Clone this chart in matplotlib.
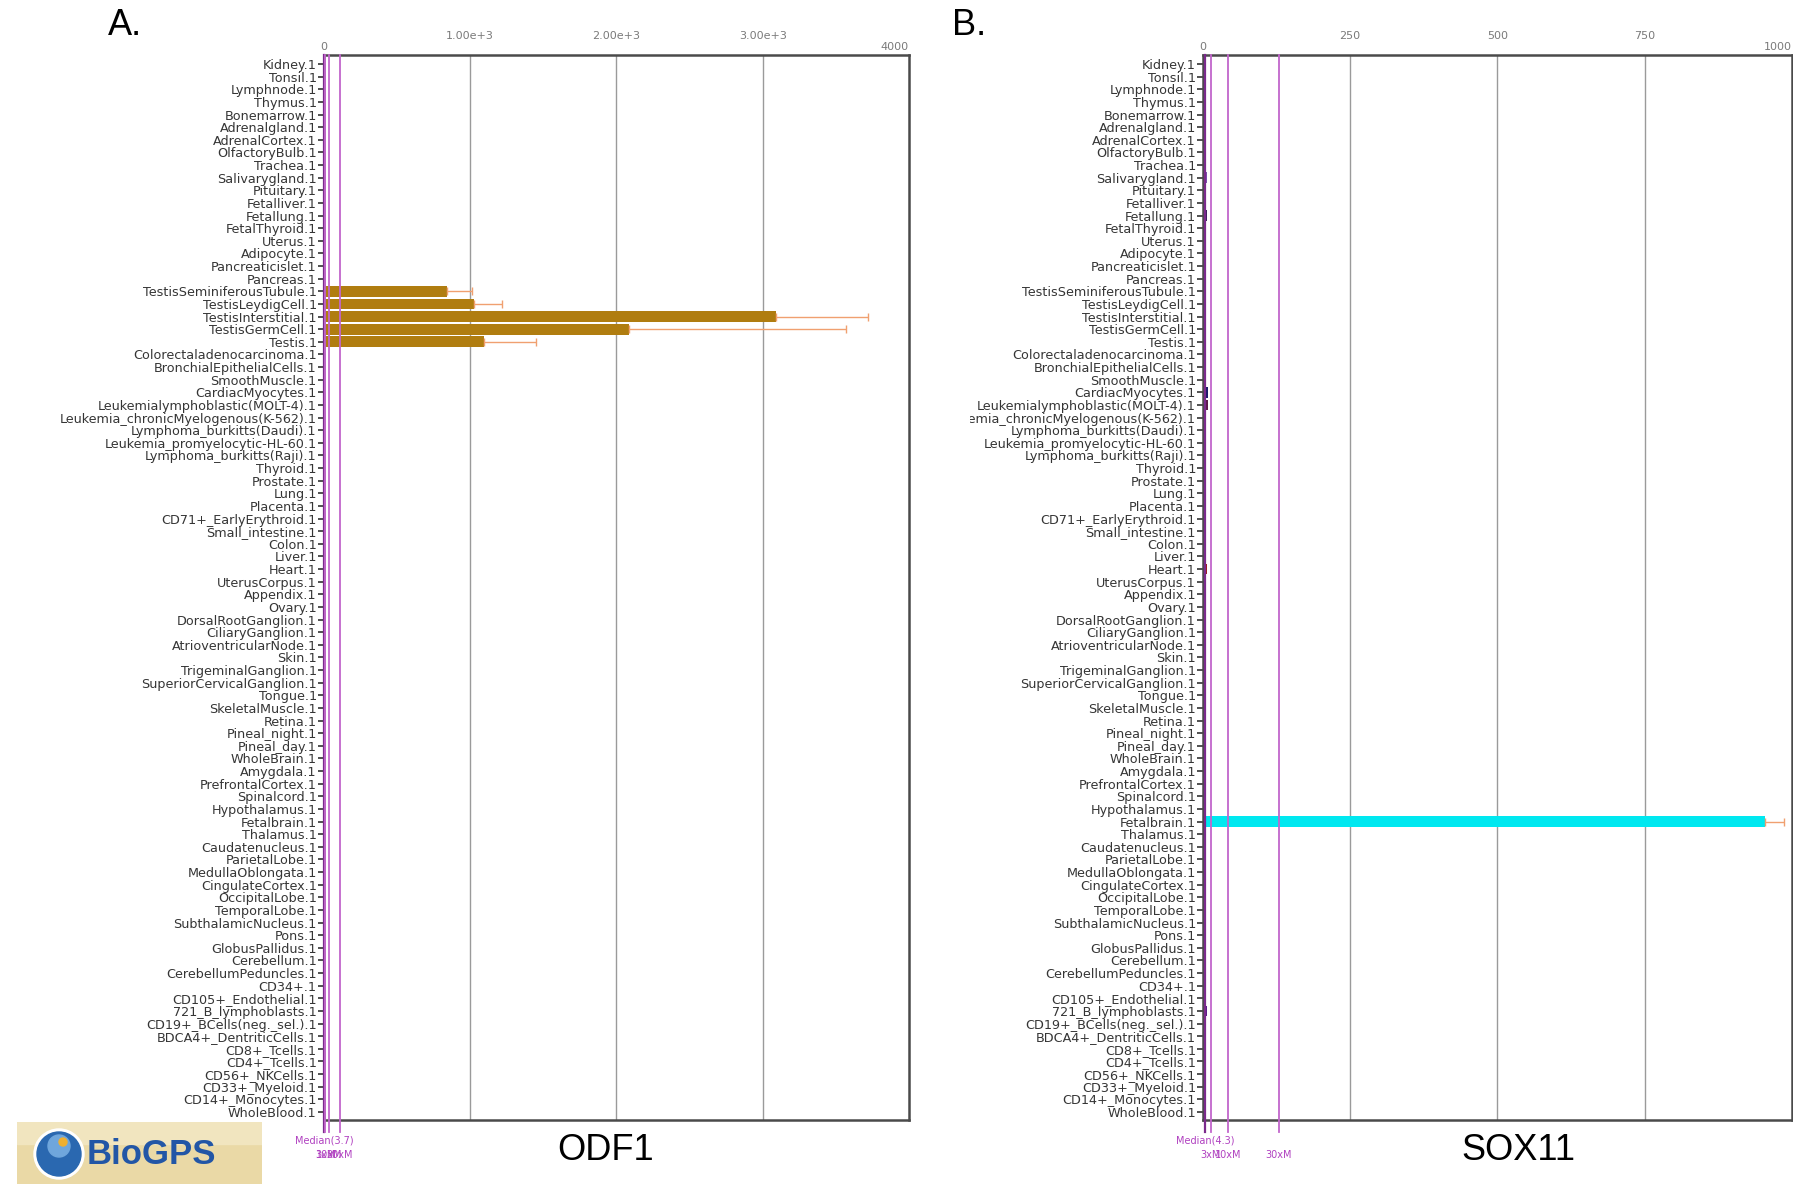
import numpy as np
import matplotlib.pyplot as plt
from matplotlib.patches import Rectangle, Circle
from matplotlib.transforms import Bbox, TransformedBbox


tissues = ['Kidney', 'Tonsil', 'Lymphnode', 'Thymus', 'Bonemarrow', 'Adrenalgland',
           'AdrenalCortex', 'OlfactoryBulb', 'Trachea', 'Salivarygland', 'Pituitary',
           'Fetalliver', 'Fetallung', 'FetalThyroid', 'Uterus', 'Adipocyte',
           'Pancreaticislet', 'Pancreas', 'TestisSeminiferousTubule', 'TestisLeydigCell',
           'TestisInterstitial', 'TestisGermCell', 'Testis', 'Colorectaladenocarcinoma',
           'BronchialEpithelialCells', 'SmoothMuscle', 'CardiacMyocytes',
           'Leukemialymphoblastic(MOLT-4)', 'Leukemia_chronicMyelogenous(K-562)',
           'Lymphoma_burkitts(Daudi)', 'Leukemia_promyelocytic-HL-60',
           'Lymphoma_burkitts(Raji)', 'Thyroid', 'Prostate', 'Lung', 'Placenta',
           'CD71+_EarlyErythroid', 'Small_intestine', 'Colon', 'Liver', 'Heart',
           'UterusCorpus', 'Appendix', 'Ovary', 'DorsalRootGanglion', 'CiliaryGanglion',
           'AtrioventricularNode', 'Skin', 'TrigeminalGanglion', 'SuperiorCervicalGanglion',
           'Tongue', 'SkeletalMuscle', 'Retina', 'Pineal_night', 'Pineal_day', 'WholeBrain',
           'Amygdala', 'PrefrontalCortex', 'Spinalcord', 'Hypothalamus', 'Fetalbrain',
           'Thalamus', 'Caudatenucleus', 'ParietalLobe', 'MedullaOblongata',
           'CingulateCortex', 'OccipitalLobe', 'TemporalLobe', 'SubthalamicNucleus', 'Pons',
           'GlobusPallidus', 'Cerebellum', 'CerebellumPeduncles', 'CD34+',
           'CD105+_Endothelial', '721_B_lymphoblasts', 'CD19+_BCells(neg._sel.)',
           'BDCA4+_DentriticCells', 'CD8+_Tcells', 'CD4+_Tcells', 'CD56+_NKCells',
           'CD33+_Myeloid', 'CD14+_Monocytes', 'WholeBlood']

tissue_colors = ['#2b1d4f', '#3a1f5c', '#2b1d4f', '#3a1f5c', '#552a6e', '#1e1e1e',
                 '#1e1e1e', '#4a2a6a', '#7a4fb0', '#7a4fb0', '#8b5a2b', '#6b2a5a',
                 '#3a1f5c', '#3a1f5c', '#5a3a8a', '#8fa0d0', '#b090d0', '#9a70c0',
                 '#b07d10', '#b07d10', '#b07d10', '#b07d10', '#b07d10', '#2a7a8a',
                 '#2a7a8a', '#1a5a6a', '#1a1a6a', '#5a1a4a', '#6a1a3a', '#40a0b0',
                 '#40a0b0', '#40a0b0', '#8b2a2a', '#9060c0', '#c04040', '#8a8a30',
                 '#506080', '#7050a0', '#404040', '#7a3030', '#a01a1a', '#6060c0',
                 '#2020a0', '#303070', '#303030', '#505050', '#6a4060', '#805050',
                 '#404040', '#606060', '#1a3a1a', '#1a3a2a', '#2aa0a8', '#2aa0a8',
                 '#2aa0a8', '#2aa0a8', '#2aa0a8', '#2aa0a8', '#2aa0a8', '#2aa0a8',
                 '#00e8f0', '#2aa0a8', '#2aa0a8', '#2aa0a8', '#2aa0a8', '#2aa0a8',
                 '#2aa0a8', '#2aa0a8', '#2aa0a8', '#2aa0a8', '#e07080', '#2aa0a8',
                 '#2aa0a8', '#5a1a8a', '#5a1a8a', '#5a1a8a', '#5a1a8a', '#5a1a8a',
                 '#5a1a8a', '#5a1a8a', '#5a1a8a', '#5a1a8a', '#5a1a8a', '#5a1a8a']

# ODF1 expression (panel A)
odf1_values = [4, 3, 3, 4, 3, 5, 4, 4, 3, 4, 5, 3, 3, 4, 4, 3, 4, 3,
               845, 1030, 3090, 2087, 1097,
               4, 3, 4, 3, 5, 4, 3, 4, 3, 4,
               3, 4, 3, 4, 3, 4, 4, 3, 4, 3,
               4, 3, 4, 3, 4, 3, 4, 4, 3, 4,
               3, 3, 4, 3, 4, 4, 3, 4, 3, 4,
               3, 4, 3, 4, 3, 4, 4, 3, 4, 5,
               4, 3, 4, 3, 4, 5, 4, 3, 4, 3,
               4]
odf1_err = [0] * 18 + [170, 190, 630, 1480, 352] + [0] * 61
odf1_median = 3.7

# SOX11 expression (panel B)
sox11_values = [3, 5, 3, 4, 3, 4, 3, 4, 6, 7, 5, 6, 7, 6, 4, 3, 3, 3,
                4, 5, 4, 4, 5,
                6, 5, 6, 8, 9, 6, 4, 4, 5,
                5, 4, 4, 4, 3, 4, 3, 3, 7, 5, 6, 5,
                4, 3, 3, 4, 5, 4, 6, 6,
                3, 3, 3, 3, 3, 3, 3, 3, 955,
                3, 3, 3, 3, 3, 3, 3, 3, 3, 4, 3, 3,
                6, 6, 7, 6, 6, 6, 6, 6, 6, 6, 6]
sox11_err = [0] * 60 + [32] + [0] * 23
sox11_median = 4.3

multipliers = [1, 3, 10, 30]
mult_labels = ['', '3xM', '10xM', '30xM']

W, H = 1793, 1184
fig = plt.figure(figsize=(W / 100, H / 100), dpi=100)
fig.patch.set_facecolor('white')

axA = fig.add_axes([0.1805, 0.0541, 0.3265, 0.8995])
axB = fig.add_axes([0.6709, 0.0541, 0.3285, 0.8995])


def draw_panel(ax, values, errs, median, xmax, ticks, tick_labels):
    y = np.arange(len(tissues))
    for t in ticks[1:-1]:
        ax.axvline(t, color='#9a9a9a', lw=1, zorder=0)
    ax.barh(y, values, height=0.85, color=tissue_colors, zorder=2)
    idx = [i for i, e in enumerate(errs) if e > 0]
    ax.errorbar([values[i] for i in idx], y[idx],
                xerr=[[0] * len(idx), [errs[i] for i in idx]],
                fmt='none', ecolor='#f0a070', elinewidth=1, capsize=3, capthick=1, zorder=3)

    ax.set_xlim(0, xmax)
    ax.set_ylim(83.63, -0.72)
    ax.set_xticks([])
    ax.set_yticks(y)
    ax.set_yticklabels([t + '.1' for t in tissues], fontsize=9.2)
    ax.tick_params(axis='y', length=4, width=1.2, color='#333333', labelcolor='#353535', pad=1)
    for s in ax.spines.values():
        s.set_linewidth(1.8)
        s.set_color('#4a4a4a')

    # top scale labels
    for t, lab in zip(ticks, tick_labels):
        if t == ticks[0]:
            ha, dy = 'center', 2
        elif t == ticks[-1]:
            ha, dy = 'right', 2
        else:
            ha, dy = 'center', 10
        ax.annotate(lab, xy=(t, 1), xycoords=('data', 'axes fraction'),
                    xytext=(0, dy), textcoords='offset points',
                    ha=ha, va='bottom', fontsize=8, color='#7a7a7a')

    # median reference lines
    for m, lab in zip(multipliers, mult_labels):
        xv = median * m
        col = '#7b2a8c' if m == 1 else '#c266cc'
        ax.plot([xv, xv], [-0.72, 84.6], color=col, lw=1.6 if m == 1 else 1.3,
                zorder=4, clip_on=False)
        if m == 1:
            ax.annotate('Median(%s)' % median, xy=(xv, 0), xycoords=('data', 'axes fraction'),
                        xytext=(0, -11), textcoords='offset points',
                        ha='center', va='top', fontsize=7, color='#b040c0')
        else:
            ax.annotate(lab, xy=(xv, 0), xycoords=('data', 'axes fraction'),
                        xytext=(0, -25), textcoords='offset points',
                        ha='center', va='center', fontsize=7, color='#b040c0')


draw_panel(axA, odf1_values, odf1_err, odf1_median, 4000,
           [0, 1000, 2000, 3000, 4000], ['0', '1.00e+3', '2.00e+3', '3.00e+3', '4000'])
draw_panel(axB, sox11_values, sox11_err, sox11_median, 1000,
           [0, 250, 500, 750, 1000], ['0', '250', '500', '750', '1000'])

# panel B labels are cut at the left edge of its image
clip = TransformedBbox(Bbox([[970 / W, 0], [1, 1]]), fig.transFigure)
for lab in axB.get_yticklabels():
    lab.set_clip_box(clip)
    lab.set_clip_on(True)

fig.text(108 / W, 1 - 8 / H, 'A.', fontsize=26, va='top', ha='left', family='Liberation Sans')
fig.text(952 / W, 1 - 8 / H, 'B.', fontsize=26, va='top', ha='left', family='Liberation Sans')
fig.text(606 / W, 1 - 1150 / H, 'ODF1', fontsize=26, va='center', ha='center',
         family='Liberation Sans')
fig.text(1518 / W, 1 - 1150 / H, 'SOX11', fontsize=26, va='center', ha='center',
         family='Liberation Sans')

# BioGPS logo
logo = fig.add_axes([17 / W, 0, 245 / W, 62 / H])
logo.set_xlim(0, 245)
logo.set_ylim(0, 62)
logo.axis('off')
logo.add_patch(Rectangle((0, 0), 245, 62, color='#ead9a6', zorder=0))
logo.add_patch(Rectangle((0, 40), 245, 22, color='#f1e5bf', zorder=0))
logo.add_patch(Circle((42, 30), 25, color='#ffffff', zorder=1))
logo.add_patch(Circle((42, 30), 22, color='#2a68b0', zorder=2))
logo.add_patch(Circle((42, 38), 11, color='#6fa6dc', zorder=3))
logo.add_patch(Circle((46, 42), 4, color='#f0b030', zorder=4))
logo.text(70, 29, 'BioGPS', fontsize=25, fontweight='bold', color='#2256a6',
          va='center', ha='left', family='Liberation Sans')

fig.savefig('out.png', dpi=100)
